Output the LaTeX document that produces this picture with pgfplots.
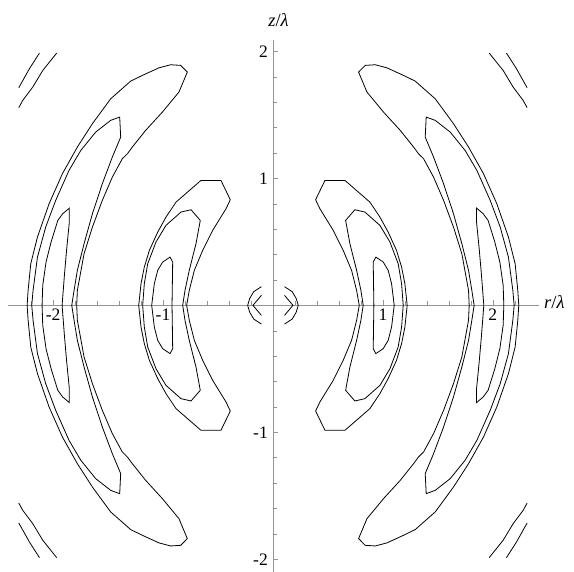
\documentclass[border=0pt]{standalone}
\usepackage{fontspec}
\setmainfont{Liberation Serif}
\usepackage{pgfplots}
\pgfplotsset{compat=1.18}
\begin{document}
\begin{tikzpicture}
\begin{axis}[
  scale only axis, width=531pt, height=532pt,
  xmin=-2.41, xmax=2.42, ymin=-2.1, ymax=2.09,
  axis lines=middle, clip=false,
  axis line style={draw=gray!85, line width=0.6pt, -},
  every inner x axis line/.append style={-},
  every inner y axis line/.append style={-},
  tick style={draw=gray!85, line width=0.5pt},
  tick align=inside,
  major tick length=5pt, minor tick length=4pt,
  xtick={-2,-1,1,2}, xticklabels={-2,-1,1,2},
  ytick={-2,-1,1,2}, yticklabels={-2,-1,1,2},
  minor xtick={-2.2,-1.8,-1.6,-1.4,-1.2,-0.8,-0.6,-0.4,-0.2,0.2,0.4,0.6,0.8,1.2,1.4,1.6,1.8,2.2},
  minor ytick={-1.8,-1.6,-1.4,-1.2,-0.8,-0.6,-0.4,-0.2,0.2,0.4,0.6,0.8,1.2,1.4,1.6,1.8},
  tick label style={font=\fontsize{17.5}{17.5}\selectfont, inner sep=2pt},
  xticklabel style={anchor=north, yshift=-1.5pt},
  yticklabel style={anchor=east, xshift=-3pt},
  xlabel={\textit{r}/\textit{λ}}, ylabel={\textit{z}/\textit{λ}},
  every axis x label/.style={at={(rel axis cs:1,0.5)}, anchor=west, xshift=3pt, yshift=4pt, font=\fontsize{18.5}{18.5}\selectfont, inner sep=2pt},
  every axis y label/.style={at={(rel axis cs:0.5,1)}, anchor=south, xshift=5pt, yshift=11pt, font=\fontsize{18.5}{18.5}\selectfont, inner sep=2pt},
  cycle list={{black, solid, mark=none}},
  every axis plot/.append style={line width=0.8pt, black, solid},
]
\coordinate (BL) at (rel axis cs:0,0);
\coordinate (TR) at (rel axis cs:1,1);
% ---------- right inner crescent
\addplot coordinates {(1.221,0) (1.200,0.171) (1.170,0.302) (1.124,0.433) (1.048,0.577) (0.973,0.695) (0.882,0.813) (0.655,0.984) (0.473,0.984) (0.388,0.832) (0.427,0.761) (0.548,0.591) (0.639,0.433) (0.715,0.276) (0.761,0.118) (0.785,0) (0.761,-0.118) (0.715,-0.276) (0.639,-0.433) (0.548,-0.591) (0.427,-0.761) (0.388,-0.832) (0.473,-0.984) (0.655,-0.984) (0.882,-0.813) (0.973,-0.695) (1.048,-0.577) (1.124,-0.433) (1.170,-0.302) (1.200,-0.171) (1.221,0)};
\addplot coordinates {(1.185,0) (1.170,0.171) (1.139,0.328) (1.064,0.499) (0.973,0.630) (0.836,0.735) (0.745,0.753) (0.661,0.669) (0.700,0.486) (0.761,0.276) (0.800,0.118) (0.821,0) (0.800,-0.118) (0.761,-0.276) (0.700,-0.486) (0.661,-0.669) (0.745,-0.753) (0.836,-0.735) (0.973,-0.630) (1.064,-0.499) (1.139,-0.328) (1.170,-0.171) (1.185,0)};
\addplot coordinates {(1.103,0) (1.079,0.171) (1.048,0.276) (1.003,0.341) (0.936,0.380) (0.912,0.341) (0.918,0) (0.912,-0.341) (0.936,-0.380) (1.003,-0.341) (1.048,-0.276) (1.079,-0.171) (1.103,0)};
% ---------- left inner crescent
\addplot coordinates {(-1.221,0) (-1.200,0.171) (-1.170,0.302) (-1.124,0.433) (-1.048,0.577) (-0.973,0.695) (-0.882,0.813) (-0.655,0.984) (-0.473,0.984) (-0.388,0.832) (-0.427,0.761) (-0.548,0.591) (-0.639,0.433) (-0.715,0.276) (-0.761,0.118) (-0.785,0) (-0.761,-0.118) (-0.715,-0.276) (-0.639,-0.433) (-0.548,-0.591) (-0.427,-0.761) (-0.388,-0.832) (-0.473,-0.984) (-0.655,-0.984) (-0.882,-0.813) (-0.973,-0.695) (-1.048,-0.577) (-1.124,-0.433) (-1.170,-0.302) (-1.200,-0.171) (-1.221,0)};
\addplot coordinates {(-1.185,0) (-1.170,0.171) (-1.139,0.328) (-1.064,0.499) (-0.973,0.630) (-0.836,0.735) (-0.745,0.753) (-0.661,0.669) (-0.700,0.486) (-0.761,0.276) (-0.800,0.118) (-0.821,0) (-0.800,-0.118) (-0.761,-0.276) (-0.700,-0.486) (-0.661,-0.669) (-0.745,-0.753) (-0.836,-0.735) (-0.973,-0.630) (-1.064,-0.499) (-1.139,-0.328) (-1.170,-0.171) (-1.185,0)};
\addplot coordinates {(-1.103,0) (-1.079,0.171) (-1.048,0.276) (-1.003,0.341) (-0.936,0.380) (-0.912,0.341) (-0.918,0) (-0.912,-0.341) (-0.936,-0.380) (-1.003,-0.341) (-1.048,-0.276) (-1.079,-0.171) (-1.103,0)};
% ---------- right outer crescent
\addplot coordinates {(2.236,0) (2.227,0.118) (2.203,0.328) (2.142,0.538) (2.036,0.801) (1.915,1.037) (1.779,1.247) (1.642,1.431) (1.476,1.627) (1.294,1.766) (1.188,1.811) (1.036,1.871) (0.930,1.895) (0.839,1.890) (0.779,1.837) (0.855,1.680) (1.006,1.522) (1.158,1.378) (1.279,1.247) (1.324,1.194) (1.370,1.155) (1.461,1.010) (1.552,0.827) (1.642,0.617) (1.718,0.407) (1.779,0.118) (1.785,0) (1.779,-0.118) (1.718,-0.407) (1.642,-0.617) (1.552,-0.827) (1.461,-1.010) (1.370,-1.155) (1.324,-1.194) (1.279,-1.247) (1.158,-1.378) (1.006,-1.522) (0.855,-1.680) (0.779,-1.837) (0.839,-1.890) (0.930,-1.895) (1.036,-1.871) (1.188,-1.811) (1.294,-1.766) (1.476,-1.627) (1.642,-1.431) (1.779,-1.247) (1.915,-1.037) (2.036,-0.801) (2.142,-0.538) (2.203,-0.328) (2.227,-0.118) (2.236,0)};
\addplot coordinates {(2.194,0) (2.182,0.118) (2.142,0.380) (2.067,0.617) (1.976,0.827) (1.855,1.063) (1.748,1.220) (1.612,1.365) (1.476,1.457) (1.394,1.483) (1.385,1.325) (1.461,1.168) (1.552,0.958) (1.642,0.722) (1.718,0.486) (1.779,0.276) (1.809,0.118) (1.830,0) (1.809,-0.118) (1.779,-0.276) (1.718,-0.486) (1.642,-0.722) (1.552,-0.958) (1.461,-1.168) (1.385,-1.325) (1.394,-1.483) (1.476,-1.457) (1.612,-1.365) (1.748,-1.220) (1.855,-1.063) (1.976,-0.827) (2.067,-0.617) (2.142,-0.380) (2.182,-0.118) (2.194,0)};
\addplot coordinates {(2.100,0) (2.094,0.157) (2.064,0.341) (2.018,0.499) (1.957,0.669) (1.912,0.722) (1.852,0.766) (1.852,0.656) (1.876,0.446) (1.897,0.236) (1.918,0) (1.897,-0.236) (1.876,-0.446) (1.852,-0.656) (1.852,-0.766) (1.912,-0.722) (1.957,-0.669) (2.018,-0.499) (2.064,-0.341) (2.094,-0.157) (2.100,0)};
% ---------- left outer crescent
\addplot coordinates {(-2.236,0) (-2.227,0.118) (-2.203,0.328) (-2.142,0.538) (-2.036,0.801) (-1.915,1.037) (-1.779,1.247) (-1.642,1.431) (-1.476,1.627) (-1.294,1.766) (-1.188,1.811) (-1.036,1.871) (-0.930,1.895) (-0.839,1.890) (-0.779,1.837) (-0.855,1.680) (-1.006,1.522) (-1.158,1.378) (-1.279,1.247) (-1.324,1.194) (-1.370,1.155) (-1.461,1.010) (-1.552,0.827) (-1.642,0.617) (-1.718,0.407) (-1.779,0.118) (-1.785,0) (-1.779,-0.118) (-1.718,-0.407) (-1.642,-0.617) (-1.552,-0.827) (-1.461,-1.010) (-1.370,-1.155) (-1.324,-1.194) (-1.279,-1.247) (-1.158,-1.378) (-1.006,-1.522) (-0.855,-1.680) (-0.779,-1.837) (-0.839,-1.890) (-0.930,-1.895) (-1.036,-1.871) (-1.188,-1.811) (-1.294,-1.766) (-1.476,-1.627) (-1.642,-1.431) (-1.779,-1.247) (-1.915,-1.037) (-2.036,-0.801) (-2.142,-0.538) (-2.203,-0.328) (-2.227,-0.118) (-2.236,0)};
\addplot coordinates {(-2.194,0) (-2.182,0.118) (-2.142,0.380) (-2.067,0.617) (-1.976,0.827) (-1.855,1.063) (-1.748,1.220) (-1.612,1.365) (-1.476,1.457) (-1.394,1.483) (-1.385,1.325) (-1.461,1.168) (-1.552,0.958) (-1.642,0.722) (-1.718,0.486) (-1.779,0.276) (-1.809,0.118) (-1.830,0) (-1.809,-0.118) (-1.779,-0.276) (-1.718,-0.486) (-1.642,-0.722) (-1.552,-0.958) (-1.461,-1.168) (-1.385,-1.325) (-1.394,-1.483) (-1.476,-1.457) (-1.612,-1.365) (-1.748,-1.220) (-1.855,-1.063) (-1.976,-0.827) (-2.067,-0.617) (-2.142,-0.380) (-2.182,-0.118) (-2.194,0)};
\addplot coordinates {(-2.100,0) (-2.094,0.157) (-2.064,0.341) (-2.018,0.499) (-1.957,0.669) (-1.912,0.722) (-1.852,0.766) (-1.852,0.656) (-1.876,0.446) (-1.897,0.236) (-1.918,0) (-1.897,-0.236) (-1.876,-0.446) (-1.852,-0.656) (-1.852,-0.766) (-1.912,-0.722) (-1.957,-0.669) (-2.018,-0.499) (-2.064,-0.341) (-2.094,-0.157) (-2.100,0)};
% ---------- corner lines
\addplot coordinates {(1.967,1.987) (2.094,1.850) (2.185,1.719) (2.276,1.614) (2.312,1.557)};
\addplot coordinates {(2.124,1.987) (2.215,1.864) (2.312,1.714)};
\addplot coordinates {(-1.967,1.987) (-2.094,1.850) (-2.185,1.719) (-2.276,1.614) (-2.312,1.557)};
\addplot coordinates {(-2.124,1.987) (-2.215,1.864) (-2.312,1.714)};
\addplot coordinates {(1.967,-1.987) (2.094,-1.850) (2.185,-1.719) (2.276,-1.614) (2.312,-1.557)};
\addplot coordinates {(2.124,-1.987) (2.215,-1.864) (2.312,-1.714)};
\addplot coordinates {(-1.967,-1.987) (-2.094,-1.850) (-2.185,-1.719) (-2.276,-1.614) (-2.312,-1.557)};
\addplot coordinates {(-2.124,-1.987) (-2.215,-1.864) (-2.312,-1.714)};
% ---------- centre chevrons
\addplot coordinates {(0.105,0.147) (0.175,0.108) (0.212,0.053) (0.230,0) (0.212,-0.053) (0.175,-0.108) (0.105,-0.147)};
\addplot coordinates {(0.105,0.079) (0.182,0) (0.105,-0.079)};
\addplot coordinates {(-0.105,0.147) (-0.175,0.108) (-0.212,0.053) (-0.230,0) (-0.212,-0.053) (-0.175,-0.108) (-0.105,-0.147)};
\addplot coordinates {(-0.105,0.079) (-0.182,0) (-0.105,-0.079)};
\end{axis}
\pgfresetboundingbox
\path[use as bounding box] ([xshift=-8pt]BL) rectangle ([xshift=35pt,yshift=40pt]TR);
\end{tikzpicture}
\end{document}
